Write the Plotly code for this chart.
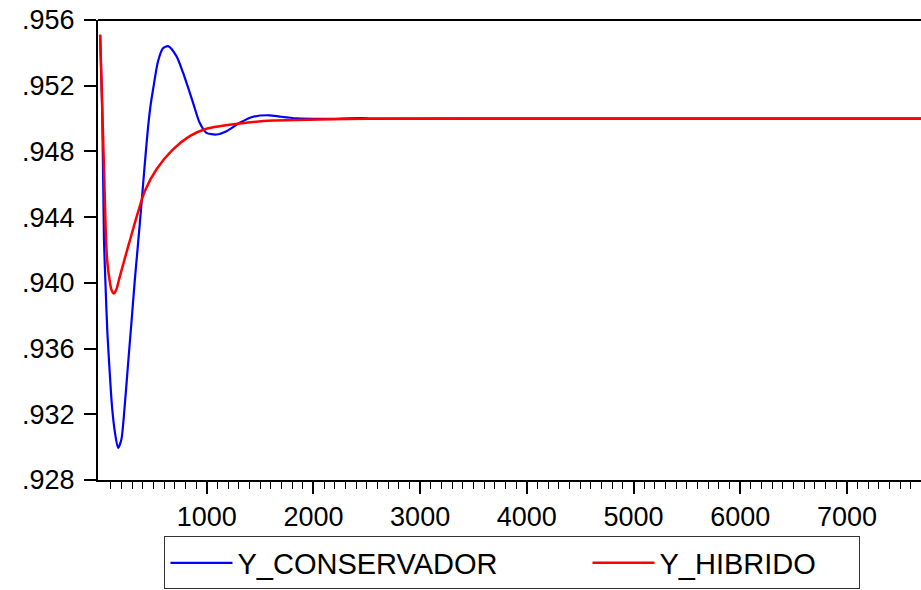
import plotly.graph_objects as go

# ---- data ----
BLUE_X = [1, 20, 37, 53, 69, 91, 112, 138, 169, 200, 231, 262, 294, 325, 353, 388, 419, 450,
          475, 497, 543, 588, 638, 716, 778, 872, 934, 997, 1091, 1185, 1309, 1434, 1590, 1684,
          1841, 2100, 2450, 2550, 4000, 8000]
BLUE_Y = [.9551, .9508, .94264, .93960, .93696, .93453, .93249, .93097, .92996, .93047, .93249,
          .93500, .93755, .94010, .94215, .94477, .94720, .94946, .95086, .95177, .95347, .95427,
          .95441, .95380, .95279, .95096, .94974, .94913, .94903, .94923, .94974, .95011, .95020,
          .95012, .95001, .94998, .95003, .95000, .95000, .95000]

RED_X = [1, 20, 40, 55, 69, 91, 106, 128, 153, 184, 216, 250, 285, 356, 419, 528, 684, 841,
         997, 1310, 1622, 2059, 2500, 4000, 8000]
RED_Y = [.9551, .9508, .9463, .9428, .94122, .94010, .93960, .93935, .93960, .94035, .94110,
         .94190, .94270, .94430, .94558, .94690, .94812, .94893, .94938, .94970, .94988, .94994,
         .94999, .95000, .95000]

Y_TICKS = [.928, .932, .936, .940, .944, .948, .952, .956]
Y_TICK_TEXT = [".928", ".932", ".936", ".940", ".944", ".948", ".952", ".956"]
X_TICKS = [1000, 2000, 3000, 4000, 5000, 6000, 7000]
X_MINOR_TICKS = [v for v in range(100, 7700, 100) if v % 1000 != 0]

FONT = "Liberation Sans, Arial, sans-serif"

fig = go.Figure()
fig.add_trace(go.Scatter(x=BLUE_X, y=BLUE_Y, mode="lines", name="Y_CONSERVADOR",
                         line=dict(color="#0000ff", width=2.2, shape="spline", smoothing=0.7),
                         legendwidth=345))
fig.add_trace(go.Scatter(x=RED_X, y=RED_Y, mode="lines", name="Y_HIBRIDO",
                         line=dict(color="#ff0000", width=2.5, shape="spline", smoothing=0.7),
                         legendwidth=195))

fig.update_layout(
    width=921, height=590,
    margin=dict(l=98, r=0, t=20, b=110, autoexpand=False),
    paper_bgcolor="white", plot_bgcolor="white",
    font=dict(family=FONT, color="black", size=27),
    showlegend=True,
    legend=dict(orientation="h", x=0.5036, xanchor="center", y=-0.1804, yanchor="middle",
                bordercolor="#333333", borderwidth=1, font=dict(size=29, family=FONT),
                bgcolor="white", itemwidth=62),
    shapes=[dict(type="line", xref="paper", yref="paper", x0=0, x1=1, y0=1, y1=1,
                 line=dict(color="black", width=2))],
)

fig.update_xaxes(
    range=[-19, 7694], showgrid=False, zeroline=False,
    showline=True, linecolor="black", linewidth=2,
    tickmode="array", tickvals=X_TICKS, ticks="outside", ticklen=12, tickwidth=1.5,
    tickcolor="black", tickfont=dict(size=27, family=FONT),
    minor=dict(tickmode="array", tickvals=X_MINOR_TICKS, ticks="outside", ticklen=7,
               tickwidth=1.2, tickcolor="black", showgrid=False),
)
fig.update_yaxes(
    range=[.928, .956], showgrid=False, zeroline=False,
    showline=True, linecolor="black", linewidth=2,
    tickmode="array", tickvals=Y_TICKS, ticktext=Y_TICK_TEXT,
    ticks="outside", ticklen=12, tickwidth=1.5, tickcolor="black",
    tickfont=dict(size=27, family=FONT), ticklabelstandoff=4,
)

fig.write_html("out.html")
